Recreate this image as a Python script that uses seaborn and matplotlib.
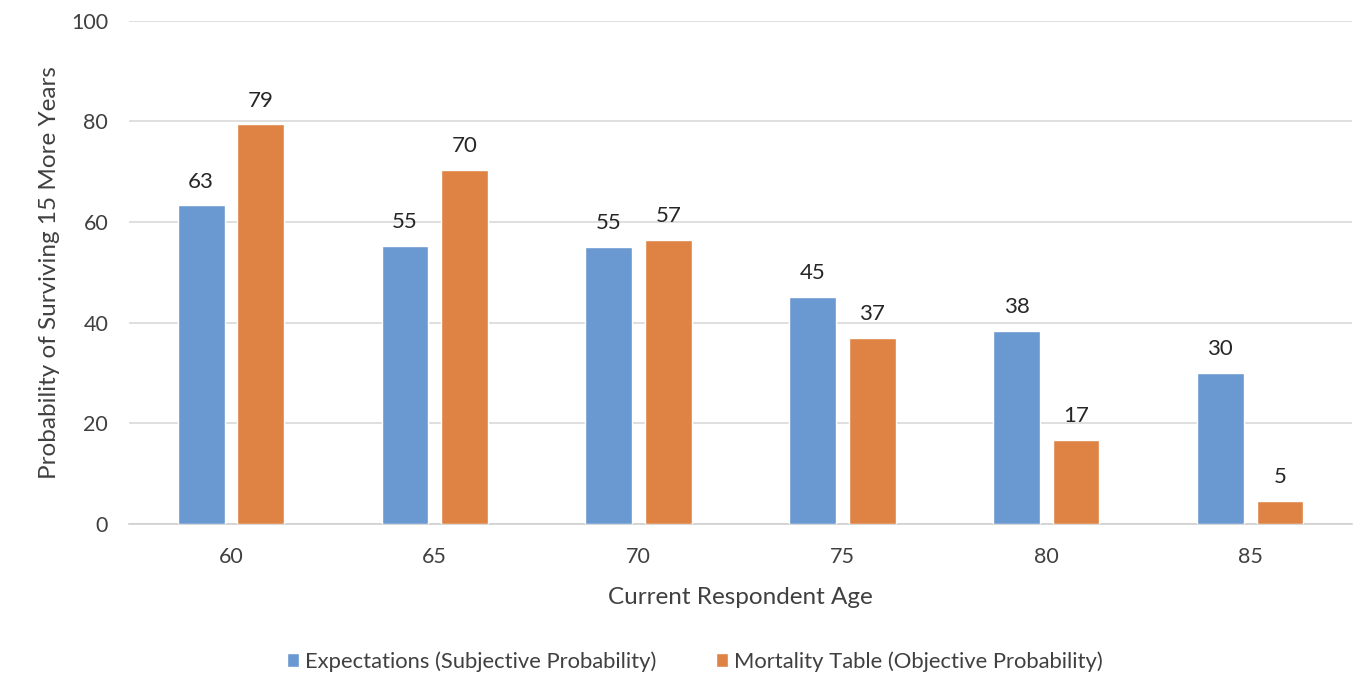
import pandas as pd
import matplotlib
matplotlib.use('Agg')
import matplotlib.pyplot as plt
import seaborn as sns

ages = ['60', '65', '70', '75', '80', '85']
subjective = [63.3, 55.2, 55.0, 45.1, 38.4, 30.0]
objective = [79.4, 70.4, 56.5, 37.0, 16.7, 4.6]
subjective_labels = ['63', '55', '55', '45', '38', '30']
objective_labels = ['79', '70', '57', '37', '17', '5']
series_names = ['Expectations (Subjective Probability)', 'Mortality Table (Objective Probability)']

df = pd.DataFrame({
    'age': ages * 2,
    'value': subjective + objective,
    'series': [series_names[0]] * len(ages) + [series_names[1]] * len(ages),
})

sns.set_style('white')
plt.rcParams['font.family'] = ['Lato', 'DejaVu Sans']

fig = plt.figure(figsize=(13.65, 6.92), dpi=100)
ax = fig.add_axes([0.0945, 0.243, 0.896, 0.727])

sns.barplot(
    data=df, x='age', y='value', hue='series',
    palette=['#6A98D0', '#DE8344'], width=0.585, gap=0.215,
    saturation=1, ax=ax, zorder=3,
)

for container, labels in zip(ax.containers, [subjective_labels, objective_labels]):
    ax.bar_label(container, labels=labels, padding=10, fontsize=16, color='#262626')

ax.set_ylim(0, 100)
ax.set_xlim(-0.5, 5.5)
ax.set_yticks([0, 20, 40, 60, 80, 100])
ax.yaxis.grid(True, color='#D9D9D9', linewidth=1.2, zorder=0)
ax.set_axisbelow(True)
for side in ['top', 'right', 'left']:
    ax.spines[side].set_visible(False)
ax.spines['bottom'].set_color('#D0D0D0')
ax.spines['bottom'].set_linewidth(1.2)
ax.tick_params(axis='both', length=0, labelsize=15.5, labelcolor='#404040')
ax.tick_params(axis='x', pad=17)
ax.tick_params(axis='y', pad=15)

ax.set_xlabel('Current Respondent Age', fontsize=17.5, color='#404040', labelpad=14)
ax.set_ylabel('Probability of Surviving 15 More Years', fontsize=17.5, color='#404040', labelpad=8)

ax.legend(loc='center', bbox_to_anchor=(0.509, 0.044), bbox_transform=fig.transFigure,
          ncol=2, frameon=False,
          fontsize=15.8, handlelength=0.55, handleheight=0.55, handletextpad=0.25,
          columnspacing=2.75, labelcolor='#404040')

fig.savefig('out.png', dpi=100)
